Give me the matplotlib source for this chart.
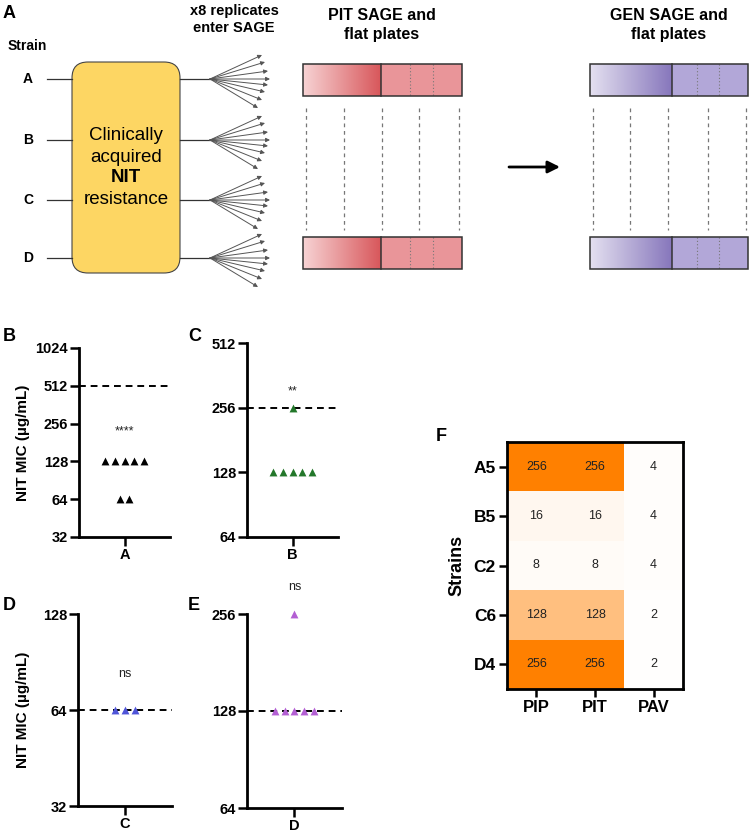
import numpy as np
import matplotlib
import matplotlib.pyplot as plt
from matplotlib.patches import FancyBboxPatch, Rectangle
from matplotlib.colors import LinearSegmentedColormap

plt.rcParams['font.family'] = ['Liberation Sans', 'DejaVu Sans']

# ---- data ----
strain_names = ['A', 'B', 'C', 'D']
fan_dy = [-24, -17, -8, 0, 6, 13, 21, 29]      # 8 replicates per strain
fan_dx = [52, 55, 58, 60, 58, 55, 52, 48]

mic_A = [128, 128, 128, 128, 128, 64, 64]
mic_B = [256, 128, 128, 128, 128, 128]
mic_C = [64, 64, 64]
mic_D = [256, 128, 128, 128, 128, 128]

heat_strains = ['A5', 'B5', 'C2', 'C6', 'D4']
heat_drugs = ['PIP', 'PIT', 'PAV']
pip_mic = [256, 16, 8, 128, 256]
pit_mic = [256, 16, 8, 128, 256]
pav_mic = [4, 4, 4, 2, 2]

W, H = 750, 834
fig = plt.figure(figsize=(W / 100, H / 100), dpi=100)


def px_axes(x0, y0, x1, y1):
    return fig.add_axes([x0 / W, 1 - y1 / H, (x1 - x0) / W, (y1 - y0) / H])


def label(x, y, s, **kw):
    fig.text(x / W, 1 - y / H, s, **kw)


# ---------------- panel A (schematic) ----------------
ax = px_axes(0, 0, W, 300)
ax.set_xlim(0, W)
ax.set_ylim(300, 0)
ax.axis('off')

ax.text(3, 13, 'A', fontsize=13, fontweight='bold', va='center')
ax.text(8, 46, 'Strain', fontsize=10, fontweight='bold', va='center')
ax.text(234, 11, 'x8 replicates', fontsize=10.5, fontweight='bold', ha='center', va='center')
ax.text(234, 28, 'enter SAGE', fontsize=10.5, fontweight='bold', ha='center', va='center')

box = FancyBboxPatch((72, 62), 108, 211, boxstyle='round,pad=0,rounding_size=16',
                     facecolor='#FDD663', edgecolor='#444444', lw=0.8, zorder=2)
ax.add_patch(box)
for txt, yy, fw in [('Clinically', 135, 'normal'), ('acquired', 157, 'normal'),
                    ('NIT', 178, 'bold'), ('resistance', 200, 'normal')]:
    ax.text(126, yy, txt, fontsize=13.5, fontweight=fw, ha='center', va='center', zorder=3)

strain_y = [79, 140, 200, 258]
for name, yy in zip(strain_names, strain_y):
    ax.text(28, yy, name, fontsize=10, fontweight='bold', ha='center', va='center')
    ax.plot([47, 72], [yy, yy], color='#333333', lw=0.9)
    ax.plot([180, 210], [yy, yy], color='#333333', lw=0.9)
    for dx, dy in zip(fan_dx, fan_dy):
        ax.annotate('', xy=(210 + dx, yy + dy), xytext=(210, yy),
                    arrowprops=dict(arrowstyle='-|>', color='#555555', lw=0.7,
                                    mutation_scale=6, shrinkA=0, shrinkB=0))


def plate(x0, x1, xm, y0, y1, c_light, c_dark, c_solid, dots):
    grad = np.linspace(0, 1, 200).reshape(1, -1)
    cmap = LinearSegmentedColormap.from_list('g', [c_light, c_dark])
    ax.imshow(grad, extent=(x0, xm, y1, y0), cmap=cmap, aspect='auto', zorder=1)
    ax.add_patch(Rectangle((xm, y0), x1 - xm, y1 - y0, facecolor=c_solid, edgecolor='none', zorder=1))
    for dx in dots:
        ax.plot([dx, dx], [y0, y1], color='#777777', lw=0.8, ls=(0, (1, 2)), zorder=2)
    ax.add_patch(Rectangle((x0, y0), x1 - x0, y1 - y0, facecolor='none', edgecolor='#333333', lw=1.1, zorder=3))
    ax.plot([xm, xm], [y0, y1], color='#333333', lw=1.1, zorder=3)


for y0, y1 in [(64, 96), (237, 269)]:
    plate(303, 462, 381, y0, y1, '#F7D3D4', '#D8575B', '#E99599', [410, 433])
    plate(590, 748, 672, y0, y1, '#E4E0F0', '#8777BC', '#B2A7D8', [697, 719])
for xx in [306, 344, 382, 419, 459, 593, 630, 668, 708, 746]:
    ax.plot([xx, xx], [108, 230], color='#777777', lw=0.9, ls=(0, (3, 3)))

ax.text(382, 16, 'PIT SAGE and', fontsize=11.5, fontweight='bold', ha='center', va='center')
ax.text(382, 35, 'flat plates', fontsize=11.5, fontweight='bold', ha='center', va='center')
ax.text(669, 16, 'GEN SAGE and', fontsize=11.5, fontweight='bold', ha='center', va='center')
ax.text(669, 35, 'flat plates', fontsize=11.5, fontweight='bold', ha='center', va='center')
ax.annotate('', xy=(560, 167), xytext=(509, 167),
            arrowprops=dict(arrowstyle='-|>', color='black', lw=2, mutation_scale=18,
                            shrinkA=0, shrinkB=0))


# ---------------- panels B-E (MIC scatter) ----------------
def mic_panel(box, values, color, baseline, ticks, xname, mark, mark_y, ylabel=False):
    a = px_axes(*box)
    a.set_yscale('log', base=2)
    a.set_ylim(ticks[0], ticks[-1])
    a.set_yticks(ticks)
    a.set_yticklabels([str(t) for t in ticks])
    a.minorticks_off()
    a.set_xlim(-1, 1)
    vals = np.array(values)
    for v in np.unique(vals):
        n = int((vals == v).sum())
        xs = (np.arange(n) - (n - 1) / 2) * 0.21
        a.scatter(xs, [v] * n, marker='^', s=32, color=color, zorder=3, clip_on=False, linewidths=0)
    a.axhline(baseline, color='black', lw=1.4, ls=(0, (3.5, 2.5)), zorder=2)
    a.text(0, mark_y, mark, ha='center', va='center', fontsize=9, color='#222222')
    for s in ['top', 'right']:
        a.spines[s].set_visible(False)
    for s in ['left', 'bottom']:
        a.spines[s].set_linewidth(2)
    a.tick_params(width=1.8, length=6.5, labelsize=10.5, pad=1.5)
    a.set_xticks([0])
    a.set_xticklabels([xname])
    for t in a.get_xticklabels() + a.get_yticklabels():
        t.set_fontweight('bold')
    if ylabel:
        a.set_ylabel('NIT MIC (µg/mL)', fontsize=11, fontweight='bold')
        a.yaxis.set_label_coords((30 - box[0]) / (box[2] - box[0]), 0.5)
    return a


mic_panel((79, 348, 170, 537), mic_A, 'black', 512, [32, 64, 128, 256, 512, 1024], 'A', '****', 223, True)
mic_panel((247, 343, 338, 537), mic_B, '#23772A', 256, [64, 128, 256, 512], 'B', '**', 306)
mic_panel((78, 614, 172, 806), mic_C, '#4F55D8', 64, [32, 64, 128], 'C', 'ns', 83, True)
mic_panel((247, 614, 342, 808), mic_D, '#B35FD3', 128, [64, 128, 256], 'D', 'ns', 310)

label(3, 337, 'B', fontsize=13, fontweight='bold', va='center')
label(188, 337, 'C', fontsize=13, fontweight='bold', va='center')
label(3, 605, 'D', fontsize=13, fontweight='bold', va='center')
label(188, 605, 'E', fontsize=13, fontweight='bold', va='center')

# ---------------- panel F (heatmap) ----------------
mat = np.array([pip_mic, pit_mic, pav_mic]).T
hax = px_axes(507, 442, 683, 689)
cmap = LinearSegmentedColormap.from_list('wo', ['#FFFFFF', '#FF8000'])
hax.imshow(mat, cmap=cmap, vmin=0, vmax=256, aspect='auto')
for i in range(mat.shape[0]):
    for j in range(mat.shape[1]):
        hax.text(j, i, str(mat[i, j]), ha='center', va='center', fontsize=9, color='#222222')
hax.set_xticks(range(len(heat_drugs)))
hax.set_xticklabels(heat_drugs, fontsize=12, fontweight='bold')
hax.set_yticks(range(len(heat_strains)))
hax.set_yticklabels(heat_strains, fontsize=12.5, fontweight='bold')
hax.tick_params(width=1.8, length=6, pad=2)
for s in hax.spines.values():
    s.set_linewidth(2)
hax.set_ylabel('Strains', fontsize=13, fontweight='bold', labelpad=6)
label(436, 437, 'F', fontsize=13, fontweight='bold', va='center')

fig.savefig('out.png', dpi=100)
